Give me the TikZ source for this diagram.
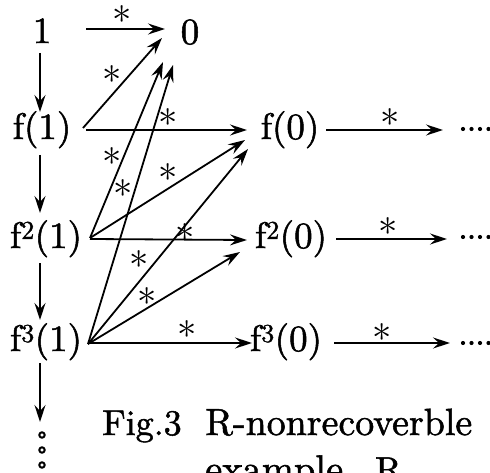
\documentclass[tikz,border=0pt]{standalone}
\usepackage{graphicx}
\usepackage{fontspec}
\setmainfont{lmroman10-regular}[Extension=.otf, FakeBold=1.4]
\usetikzlibrary{arrows.meta,calc}
\newcommand{\starmark}{\scalebox{1.55}{$\ast$}}
\tikzset{
  lbl/.style={inner sep=0pt, text height=27pt, text depth=9pt, font=\fontsize{37}{44}\selectfont},
  starlbl/.style={inner sep=0pt, font=\fontsize{24}{24}\selectfont},
  arr/.style={line width=1.8pt, -{Stealth[length=17pt,width=11pt,inset=6pt]}},
  capt/.style={inner sep=0pt, anchor=base west, font=\fontsize{36}{42}\selectfont},
  dotgrp/.style={inner sep=0pt, minimum width=30pt, minimum height=6pt},
  vdots/.style={inner sep=0pt, minimum width=8pt, minimum height=40pt},
}
\begin{document}
\begin{tikzpicture}[x=1pt,y=-1pt]
\useasboundingbox (0,0) rectangle (490,473);
% nodes
\node[lbl] (n1) at (42,34) {1};
\node[lbl] (n0) at (190,35) {0};
\node[lbl] (f1) at (42,130) {f(1)};
\node[lbl] (f2) at (46,239) {f\textsuperscript{2}(1)};
\node[lbl] (f3) at (46,342) {f\textsuperscript{3}(1)};
\node[lbl] (g1) at (290,130) {f(0)};
\node[lbl] (g2) at (291,239) {f\textsuperscript{2}(0)};
\node[lbl] (g3) at (286,342) {f\textsuperscript{3}(0)};
\node[dotgrp] (e1) at (476,129) {};
\node[dotgrp] (e2) at (476,237) {};
\node[dotgrp] (e3) at (476,343) {};
\node[vdots] (vd) at (42,450) {};
\foreach \y in {129,237,343}{
  \foreach \x in {463,471.5,480,488.5}{\fill (\x,\y) circle (2.1pt);}
}
\foreach \y in {435,450,465}{\draw[line width=2pt] (42,\y) circle (2.7pt);}
% vertical arrows
\draw[arr] ($(n1)+(-2,19)$) -- ($(f1)+(-2,-18)$);
\draw[arr] ($(f1)+(-2,25)$) -- ($(f2)+(-6,-26)$);
\draw[arr] ($(f2)+(-6,24)$) -- ($(f3)+(-6,-22)$);
\draw[arr] ($(f3)+(-6,21)$) -- ($(vd)+(-2,-28)$);
% arrows
\draw[arr] ($(n1)+(44,-5)$) -- ($(n0)+(-25,-6)$);
\draw[arr] ($(f1)+(41,-2)$) -- ($(n0)+(-28,3)$);
\draw[arr] ($(f1)+(44,0)$) -- ($(g1)+(-43,0)$);
\draw[arr] ($(f2)+(44,-1)$) -- ($(n0)+(-27,27)$);
\draw[arr] ($(f2)+(44,-1)$) -- ($(g1)+(-45,10)$);
\draw[arr] ($(f2)+(44,0)$) -- ($(g2)+(-44,1)$);
\draw[arr] ($(f3)+(42,2)$) -- ($(n0)+(-17,30)$);
\draw[arr] ($(f3)+(42,2)$) -- ($(g1)+(-42,19)$);
\draw[arr] ($(f3)+(42,2)$) -- ($(g2)+(-51,13)$);
\draw[arr] ($(f3)+(42,1)$) -- ($(g3)+(-34,1)$);
\draw[arr] ($(g1)+(36,0)$) -- ($(e1)+(-33,1)$);
\draw[arr] ($(g2)+(45,0)$) -- ($(e2)+(-29,2)$);
\draw[arr] ($(g3)+(48,1)$) -- ($(e3)+(-26,0)$);
% star labels
\node[starlbl] (s1) at (122,15) {\starmark};
\node[starlbl] (s2) at (112,75) {\starmark};
\node[starlbl] (s3) at (168,118) {\starmark};
\node[starlbl] (s4) at (112,157) {\starmark};
\node[starlbl] (s5) at (123,189) {\starmark};
\node[starlbl] (s6) at (168,173) {\starmark};
\node[starlbl] (s7) at (139,260) {\starmark};
\node[starlbl] (s8) at (185,233) {\starmark};
\node[starlbl] (s9) at (147,297) {\starmark};
\node[starlbl] (s10) at (187,330) {\starmark};
\node[starlbl] (s11) at (390,118) {\starmark};
\node[starlbl] (s12) at (388,227) {\starmark};
\node[starlbl] (s13) at (382,333) {\starmark};
% caption
\node[capt] (c1a) at (102,435) {Fig.3};
\node[capt] (c1b) at (205,435) {\resizebox{267pt}{!}{R-nonrecoverble}};
\node[capt] (c2) at (205,482) {\resizebox{138pt}{!}{example}\hspace{32pt}{\itshape R}\textsubscript{3}};
\end{tikzpicture}
\end{document}
